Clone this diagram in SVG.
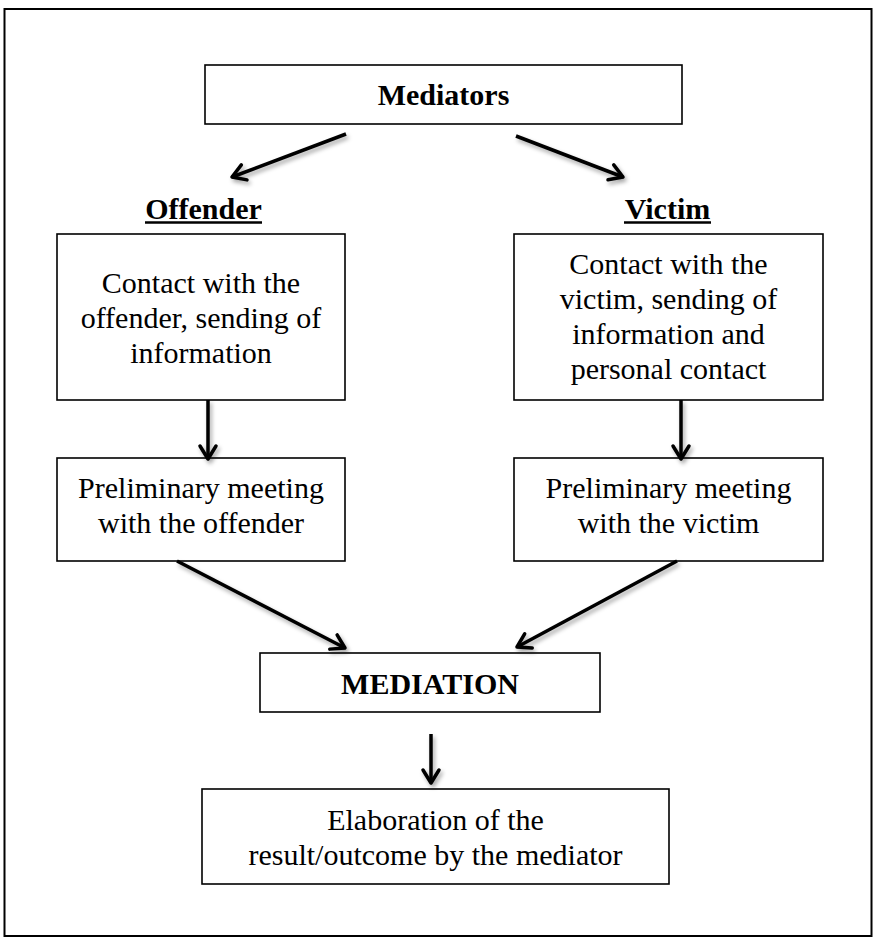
<svg xmlns="http://www.w3.org/2000/svg" width="875" height="941" viewBox="0 0 875 941">
<style>
  .box { fill: #fff; stroke: #000; stroke-width: 1.6; }
  .t { font-family: "Liberation Serif", "Times New Roman", serif; font-size: 30px; fill: #000; text-anchor: middle; }
  .b { font-weight: bold; }
  .conn { fill: none; stroke: #000; stroke-width: 3.5; stroke-linecap: butt; }
</style>
<defs>
  <marker id="arr" markerUnits="userSpaceOnUse" viewBox="-16 -12 20 24" refX="0" refY="0" markerWidth="20" markerHeight="24" orient="auto" overflow="visible">
    <path d="M-13,-8 L0,0 L-13,8" fill="none" stroke="#000" stroke-width="3.5" stroke-linejoin="round" stroke-linecap="round"/>
  </marker>
  <filter id="sh" x="-20%" y="-20%" width="140%" height="140%">
    <feDropShadow dx="2" dy="3" stdDeviation="2" flood-color="#000" flood-opacity="0.35"/>
  </filter>
</defs>
<rect x="4.5" y="9" width="867" height="927" fill="#fff" stroke="#000" stroke-width="2"/>

<g id="mediators">
  <rect class="box" x="205" y="65" width="477" height="59" stroke-width="2"/>
  <text class="t b" x="443.5" y="105">Mediators</text>
</g>

<g id="offender-label">
  <text class="t b" x="203.5" y="219">Offender</text>
  <line x1="145" y1="222.5" x2="262" y2="222.5" stroke="#000" stroke-width="2.5"/>
</g>
<g id="victim-label">
  <text class="t b" x="667.5" y="219">Victim</text>
  <line x1="624" y1="222.5" x2="711" y2="222.5" stroke="#000" stroke-width="2.5"/>
</g>

<g id="offender-contact">
  <rect class="box" x="57" y="234" width="288" height="166"/>
  <text class="t" x="201" y="293">Contact with the</text>
  <text class="t" x="201" y="328">offender, sending of</text>
  <text class="t" x="201" y="363">information</text>
</g>

<g id="victim-contact">
  <rect class="box" x="514" y="234" width="309" height="166"/>
  <text class="t" x="668.5" y="274">Contact with the</text>
  <text class="t" x="668.5" y="309">victim, sending of</text>
  <text class="t" x="668.5" y="344">information and</text>
  <text class="t" x="668.5" y="379">personal contact</text>
</g>

<g id="offender-meeting">
  <rect class="box" x="57" y="458" width="288" height="103"/>
  <text class="t" x="201" y="498">Preliminary meeting</text>
  <text class="t" x="201" y="533">with the offender</text>
</g>

<g id="victim-meeting">
  <rect class="box" x="514" y="458" width="309" height="103"/>
  <text class="t" x="668.5" y="498">Preliminary meeting</text>
  <text class="t" x="668.5" y="533">with the victim</text>
</g>

<g id="mediation">
  <rect class="box" x="260" y="653" width="340" height="59"/>
  <text class="t b" x="430" y="694">MEDIATION</text>
</g>

<g id="elaboration">
  <rect class="box" x="202" y="789" width="467" height="95"/>
  <text class="t" x="435.5" y="830">Elaboration of the</text>
  <text class="t" x="435.5" y="865">result/outcome by the mediator</text>
</g>

<g id="connectors" filter="url(#sh)">
  <line class="conn" x1="346" y1="134" x2="232" y2="177" marker-end="url(#arr)"/>
  <line class="conn" x1="516" y1="136" x2="623" y2="177" marker-end="url(#arr)"/>
  <line class="conn" x1="208" y1="400" x2="208" y2="459" marker-end="url(#arr)"/>
  <line class="conn" x1="681" y1="400" x2="681" y2="459" marker-end="url(#arr)"/>
  <line class="conn" x1="177" y1="561" x2="345" y2="648" marker-end="url(#arr)"/>
  <line class="conn" x1="677" y1="561" x2="517" y2="647" marker-end="url(#arr)"/>
  <line class="conn" x1="431" y1="734" x2="431" y2="783" marker-end="url(#arr)"/>
</g>
</svg>
